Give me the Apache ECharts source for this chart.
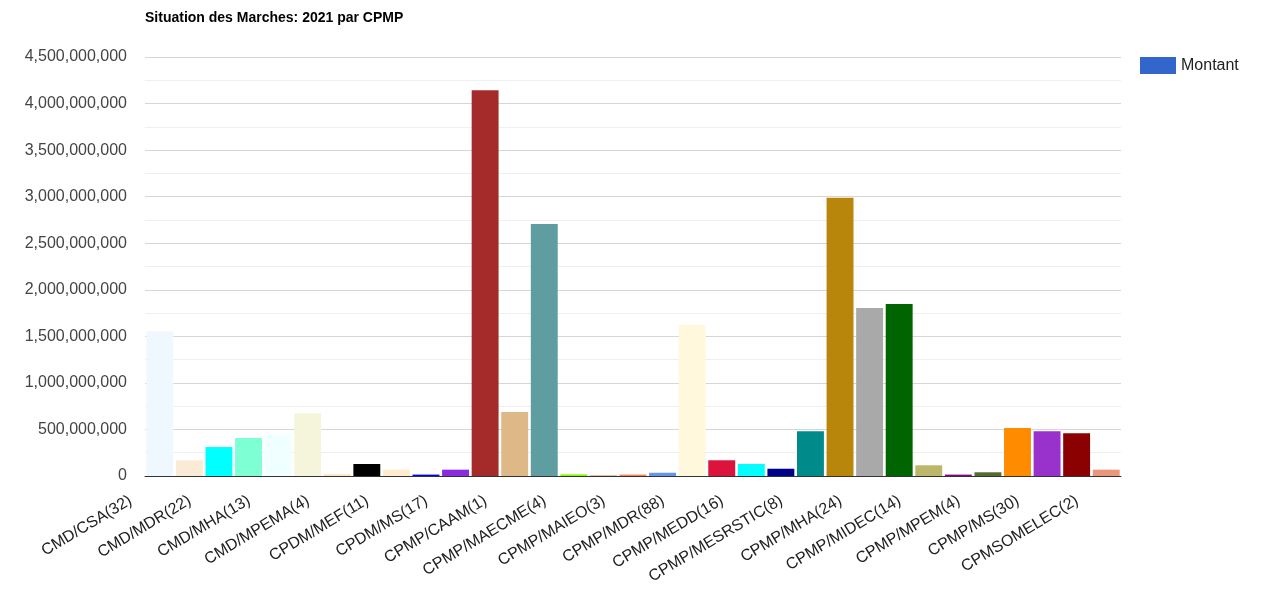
<!DOCTYPE html>
<html>
<head>
<meta charset="utf-8">
<script src="https://cdn.jsdelivr.net/npm/echarts@6/dist/echarts.min.js"></script>
<style>html,body{margin:0;padding:0;background:#fff}#c{width:1261px;height:590px}</style>
</head>
<body>
<div id="c"></div>
<script>
const categories = [
  'CMD/CSA(32)','CMD/MASEF(5)','CMD/MDR(22)','CMD/MEN(9)','CMD/MHA(13)','CMD/MIDEC(6)',
  'CMD/MPEMA(4)','CMD/MS(7)','CPDM/MEF(11)','CPDM/MPEM(2)','CPDM/MS(17)','CPDM/SNDE(3)',
  'CPMP/CAAM(1)','CPMP/CDC(5)','CPMP/MAECME(4)','CPMP/MAEPSA(2)','CPMP/MAIEO(3)','CPMP/MCT(3)',
  'CPMP/MDR(88)','CPMP/MEAEJ(6)','CPMP/MEDD(16)','CPMP/MEF(9)','CPMP/MESRSTIC(8)','CPMP/MF(12)',
  'CPMP/MHA(24)','CPMP/MHUV(18)','CPMP/MIDEC(14)','CPMP/MJ(2)','CPMP/MPEM(4)','CPMP/MPN(3)',
  'CPMP/MS(30)','CPMP/SNDE(11)','CPMSOMELEC(2)'
];
const montant = [
  1554000000, 169000000, 311000000, 408000000, 444000000, 673000000,
  20000000, 129000000, 68000000, 15000000, 68000000, 4142000000,
  687000000, 2706000000, 18000000, 5000000, 15000000, 35000000,
  1625000000, 169000000, 129000000, 78000000, 480000000, 2989000000,
  1804000000, 1847000000, 115000000, 15000000, 40000000, 515000000,
  480000000, 459000000, 68000000
];
const barColors = [
  'aliceblue','antiquewhite','aqua','aquamarine','azure','beige','bisque','black',
  'blanchedalmond','blue','blueviolet','brown','burlywood','cadetblue','chartreuse',
  'chocolate','coral','cornflowerblue','cornsilk','crimson','cyan','darkblue','darkcyan',
  'darkgoldenrod','darkgray','darkgreen','darkkhaki','darkmagenta','darkolivegreen',
  'darkorange','darkorchid','darkred','darksalmon'
];
const titleText = 'Situation des Marches: 2021 par CPMP';
const seriesName = 'Montant';

const chart = echarts.init(document.getElementById('c'));
chart.setOption({
  animation: false,
  textStyle: { fontFamily: 'Liberation Sans, Arial, sans-serif' },
  title: {
    text: titleText, left: 140, top: 6,
    textStyle: { fontSize: 14, fontWeight: 'bold', color: '#000', fontFamily: 'Liberation Sans, Arial, sans-serif' }
  },
  legend: {
    data: [seriesName], left: 1135, top: 52, orient: 'vertical',
    itemWidth: 36, itemHeight: 17, itemGap: 8,
    icon: 'rect',
    textStyle: { fontSize: 16, color: '#222' }
  },
  grid: { left: 145, right: 140, top: 57, bottom: 114 },
  xAxis: {
    type: 'category', data: categories,
    axisLine: { lineStyle: { color: '#333', width: 1 } },
    axisTick: { show: false },
    axisLabel: { interval: 1, rotate: 31, fontSize: 16, color: '#222', margin: 6, padding: [0, 34, 0, 0] }
  },
  yAxis: {
    type: 'value', min: 0, max: 4500000000, interval: 500000000,
    axisLine: { show: false }, axisTick: { show: false },
    axisLabel: { fontSize: 16, color: '#444', margin: 18,
      formatter: v => v.toLocaleString('en-US') },
    splitLine: { lineStyle: { color: '#d6d6d6' } },
    minorTick: { show: false, splitNumber: 2 },
    minorSplitLine: { show: true, lineStyle: { color: '#efefef' } }
  },
  series: [{
    name: seriesName, type: 'bar',
    barCategoryGap: '9%',
    itemStyle: { color: '#3366cc' },
    data: montant.map((v, i) => ({ value: v, itemStyle: { color: barColors[i] } }))
  }]
});
</script>
</body>
</html>
